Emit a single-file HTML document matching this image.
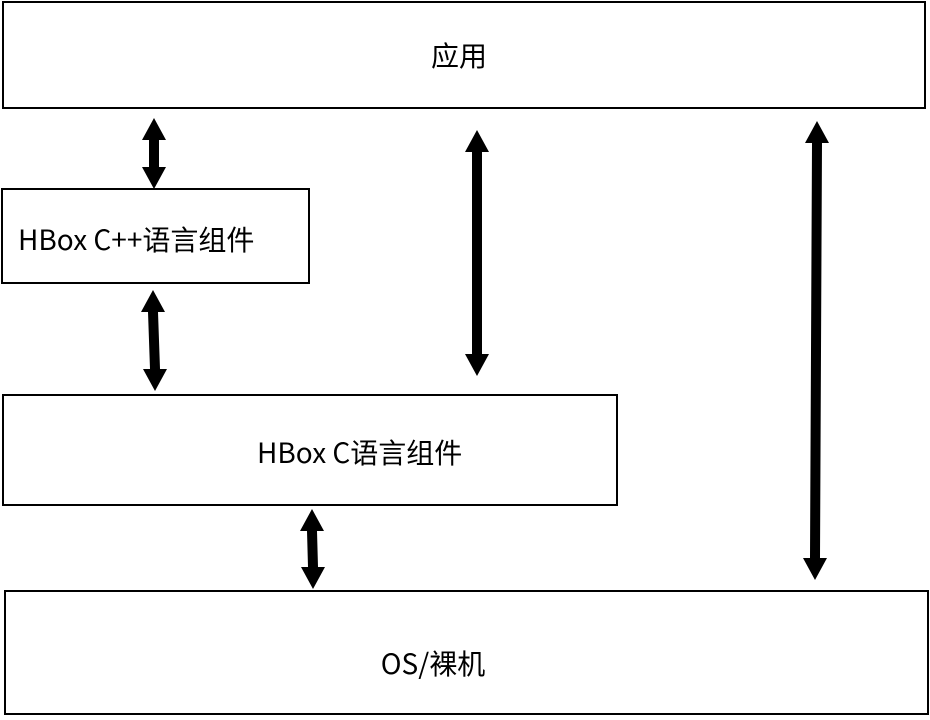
<!DOCTYPE html>
<html><head><meta charset="utf-8"><style>
html,body{margin:0;padding:0;background:#fff;}
body{width:930px;height:715px;overflow:hidden;}
svg text{font-family:"Noto Sans CJK SC","Liberation Sans",sans-serif;font-size:28px;fill:#000;}
</style></head><body>
<svg width="930" height="715" viewBox="0 0 930 715" xmlns="http://www.w3.org/2000/svg">
<g fill="#fff" stroke="#000" stroke-width="2">
<rect x="3" y="2" width="922" height="106"/>
<rect x="2" y="189" width="307" height="94"/>
<rect x="3" y="395" width="614" height="110"/>
<rect x="5" y="591" width="923" height="123"/>
</g>
<g fill="#000">
<polygon points="154,118 166,140 159,140 159,167 166,167 154,189 142,167 149,167 149,140 142,140"/>
<polygon points="153,290 165,312 158,312 160,369 167,369 155,391 143,369 150,369 148,312 141,312"/>
<polygon points="477,130 489,152 482,152 482,354 489,354 477,376 465,354 472,354 472,152 465,152"/>
<polygon points="817,121 829,143 822,143 820,558 827,558 815,580 803,558 810,558 812,143 805,143"/>
<polygon points="312,509 324,531 317,531 318,567 325,567 313,589 301,567 308,567 307,531 300,531"/>
</g>
<text x="459" y="66" text-anchor="middle">应用</text>
<text x="18" y="250">HBox C++语言组件</text>
<text x="257" y="463">HBox C语言组件</text>
<text x="433" y="674" text-anchor="middle">OS/裸机</text>
</svg>
</body></html>
